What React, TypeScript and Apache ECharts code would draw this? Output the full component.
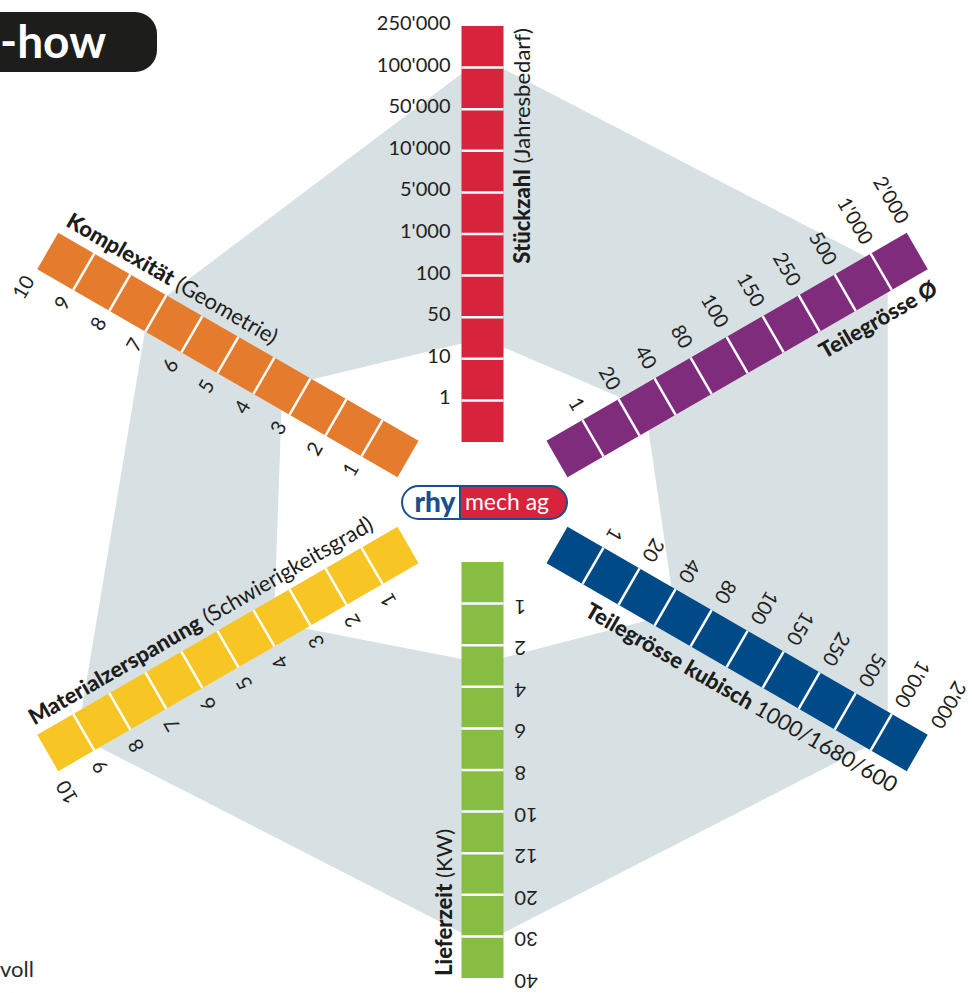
import React, { useEffect, useRef } from 'react';
import * as echarts from 'echarts';

// ---- data ----
const AXIS_NAMES = ['Stückzahl', 'Teilegrösse Ø', 'Teilegrösse kubisch', 'Lieferzeit', 'Materialzerspanung', 'Komplexität'];
const AXIS_SUBTITLES = ['(Jahresbedarf)', '', '1000/1680/600', '(KW)', '(Schwierigkeitsgrad)', '(Geometrie)'];
const AXIS_ANGLES = [90, 30, 330, 270, 210, 150];
const AXIS_COLORS = ['#d8233c', '#7f2c7c', '#004a87', '#86bd42', '#f7c624', '#e57b2d'];

const TICKS_STUECKZAHL = ['1', '10', '50', '100', "1'000", "5'000", "10'000", "50'000", "100'000", "250'000"];
const TICKS_DURCHMESSER = ['1', '20', '40', '80', '100', '150', '250', '500', "1'000", "2'000"];
const TICKS_KUBISCH = ['1', '20', '40', '80', '100', '150', '250', '500', "1'000", "2'000"];
const TICKS_LIEFERZEIT = ['1', '2', '4', '6', '8', '10', '12', '20', '30', '40'];
const TICKS_MATERIAL = ['1', '2', '3', '4', '5', '6', '7', '8', '9', '10'];
const TICKS_KOMPLEX = ['1', '2', '3', '4', '5', '6', '7', '8', '9', '10'];
const AXIS_TICKS = [TICKS_STUECKZAHL, TICKS_DURCHMESSER, TICKS_KUBISCH, TICKS_LIEFERZEIT, TICKS_MATERIAL, TICKS_KOMPLEX];

// range band (position on each scale, 0 = inner end, 10 = outer end)
const RANGE_MAX = [9.23, 9.18, 9.18, 9.17, 9.18, 7.2];
const RANGE_MIN = [2.49, 2.45, 3.28, 2.43, 3.72, 3.49];

// ---- layout constants ----
const SEG_PX = 41.6;
const INNER_DIAG_PX = 86;
const ARM_OFFSET = [-0.625, 0, 0, -0.625, 0, 0]; // vertical arms start closer to the centre
const CENTER: [number, number] = [482.5, 502];
const BAR_WIDTH = 42;
const LABEL_GAP = 11;
const LABEL_SHIFT = 4;
const TITLE_PERP = 39;
const TITLE_SIZE = 22;
const FONT = 'Lato, "Open Sans", sans-serif';

const toRad = (d: number) => (d * Math.PI) / 180;

function geometry(api: any, i: number) {
  const ang = AXIS_ANGLES[i];
  const off = ARM_OFFSET[i];
  const n = AXIS_TICKS[i].length;
  const p0 = api.coord([off, ang]);
  const p1 = api.coord([off + n, ang]);
  const len = Math.hypot(p1[0] - p0[0], p1[1] - p0[1]);
  const ux = (p1[0] - p0[0]) / len;
  const uy = (p1[1] - p0[1]) / len;
  return { ang, off, n, p0, p1, ux, uy, lx: uy, ly: -ux };
}

function renderBand(params: any, api: any) {
  const outer = AXIS_ANGLES.map((a, i) => api.coord([RANGE_MAX[i] + ARM_OFFSET[i], a]));
  const inner = AXIS_ANGLES.map((a, i) => api.coord([RANGE_MIN[i] + ARM_OFFSET[i], a]));
  return {
    type: 'group',
    children: [
      { type: 'polygon', shape: { points: outer }, style: { fill: '#d7e0e3' } },
      { type: 'polygon', shape: { points: inner }, style: { fill: '#ffffff' } },
    ],
  };
}

function renderArm(params: any, api: any) {
  const i = params.dataIndex;
  const g = geometry(api, i);
  const half = BAR_WIDTH / 2;
  const children: any[] = [];
  const { p0, p1, lx, ly, ux, uy } = g;
  children.push({
    type: 'polygon',
    shape: {
      points: [
        [p0[0] + lx * half, p0[1] + ly * half],
        [p1[0] + lx * half, p1[1] + ly * half],
        [p1[0] - lx * half, p1[1] - ly * half],
        [p0[0] - lx * half, p0[1] - ly * half],
      ],
    },
    style: { fill: AXIS_COLORS[i] },
  });
  for (let k = 1; k < g.n; k++) {
    const q = api.coord([g.off + k, g.ang]);
    children.push({
      type: 'line',
      shape: { x1: q[0] + lx * half, y1: q[1] + ly * half, x2: q[0] - lx * half, y2: q[1] - ly * half },
      style: { stroke: '#ffffff', lineWidth: 2.5 },
    });
  }
  const rad = toRad(g.ang);
  const ticks = AXIS_TICKS[i];
  for (let k = 1; k <= g.n; k++) {
    const q = api.coord([g.off + k, g.ang]);
    children.push({
      type: 'text',
      x: q[0] + ux * LABEL_SHIFT + lx * (half + LABEL_GAP),
      y: q[1] + uy * LABEL_SHIFT + ly * (half + LABEL_GAP),
      rotation: rad - Math.PI / 2,
      style: {
        text: ticks[k - 1],
        fill: '#231f20',
        fontSize: 20,
        fontWeight: 'normal',
        fontFamily: FONT,
        align: 'right',
        verticalAlign: 'middle',
      },
    });
  }
  const flip = Math.cos(rad) < -1e-6 || Math.sin(rad) < -0.99;
  const rx = -uy;
  const ry = ux;
  const end = [p1[0] - ux * 2, p1[1] - uy * 2];
  const sub = AXIS_SUBTITLES[i];
  children.push({
    type: 'text',
    x: end[0] + rx * TITLE_PERP,
    y: end[1] + ry * TITLE_PERP,
    rotation: flip ? rad + Math.PI : rad,
    style: {
      text: sub ? `{b|${AXIS_NAMES[i]}} {n|${sub}}` : `{b|${AXIS_NAMES[i]}}`,
      align: flip ? 'left' : 'right',
      verticalAlign: 'middle',
      fill: '#1d1d1b',
      fontSize: TITLE_SIZE,
      fontFamily: FONT,
      rich: {
        b: { fontSize: TITLE_SIZE, fontWeight: 900, fontFamily: FONT, fill: '#1d1d1b' },
        n: { fontSize: TITLE_SIZE, fontWeight: 'normal', fontFamily: FONT, fill: '#1d1d1b' },
      },
    },
  });
  return { type: 'group', children };
}

export default function App() {
  const ref = useRef<HTMLDivElement>(null);
  useEffect(() => {
    const chart = echarts.init(ref.current as HTMLDivElement, null, { renderer: 'svg' });
    const option: any = {
      animation: false,
      backgroundColor: '#ffffff',
      polar: { center: CENTER, radius: INNER_DIAG_PX + 10 * SEG_PX },
      angleAxis: { type: 'value', min: 0, max: 360, startAngle: 0, clockwise: false, show: false },
      radiusAxis: { type: 'value', min: -INNER_DIAG_PX / SEG_PX, max: 10, show: false },
      series: [
        {
          type: 'custom',
          coordinateSystem: 'polar',
          silent: true,
          data: [[5, 0]],
          renderItem: renderBand,
          z: 1,
        },
        {
          type: 'custom',
          coordinateSystem: 'polar',
          silent: true,
          data: AXIS_ANGLES.map((a) => [5, a]),
          renderItem: renderArm,
          z: 2,
        },
      ],
      graphic: [
        {
          type: 'group',
          z: 20,
          children: [
            { type: 'rect', z: 20, shape: { x: -40, y: 12, width: 197, height: 60, r: 22 }, style: { fill: '#1d1d1b' } },
            {
              type: 'text',
              z: 21,
              x: 0,
              y: 40,
              style: { text: '-how', fill: '#ffffff', font: `bold 46px ${FONT}`, align: 'left', verticalAlign: 'middle' },
            },
          ],
        },
        {
          type: 'text',
          z: 20,
          x: 0,
          y: 968,
          style: { text: 'voll', fill: '#2b2a29', font: `normal 22px ${FONT}`, align: 'left', verticalAlign: 'middle' },
        },
        {
          type: 'group',
          z: 20,
          children: [
            { type: 'rect', z: 20, shape: { x: 402, y: 486, width: 165, height: 33, r: 16.5 }, style: { fill: '#ffffff' } },
            { type: 'rect', z: 21, shape: { x: 460, y: 486, width: 107, height: 33, r: [0, 16.5, 16.5, 0] }, style: { fill: '#d8233c' } },
            { type: 'line', z: 22, shape: { x1: 460, y1: 486, x2: 460, y2: 519 }, style: { stroke: '#1b4f8c', lineWidth: 2 } },
            { type: 'rect', z: 22, shape: { x: 402, y: 486, width: 165, height: 33, r: 16.5 }, style: { fill: 'none', stroke: '#1b4f8c', lineWidth: 2 } },
            {
              type: 'text',
              z: 23,
              x: 435,
              y: 501,
              style: { text: 'rhy', fill: '#1b4f8c', font: `900 28px ${FONT}`, align: 'center', verticalAlign: 'middle' },
            },
            {
              type: 'text',
              z: 23,
              x: 507,
              y: 501,
              style: { text: 'mech ag', fill: '#ffffff', font: `normal 23px ${FONT}`, align: 'center', verticalAlign: 'middle' },
            },
          ],
        },
      ],
    };
    chart.setOption(option);
    return () => chart.dispose();
  }, []);
  return (
    <div
      ref={ref}
      style={{ position: 'fixed', left: 0, top: 0, width: 972, height: 993, background: '#ffffff' }}
    />
  );
}
